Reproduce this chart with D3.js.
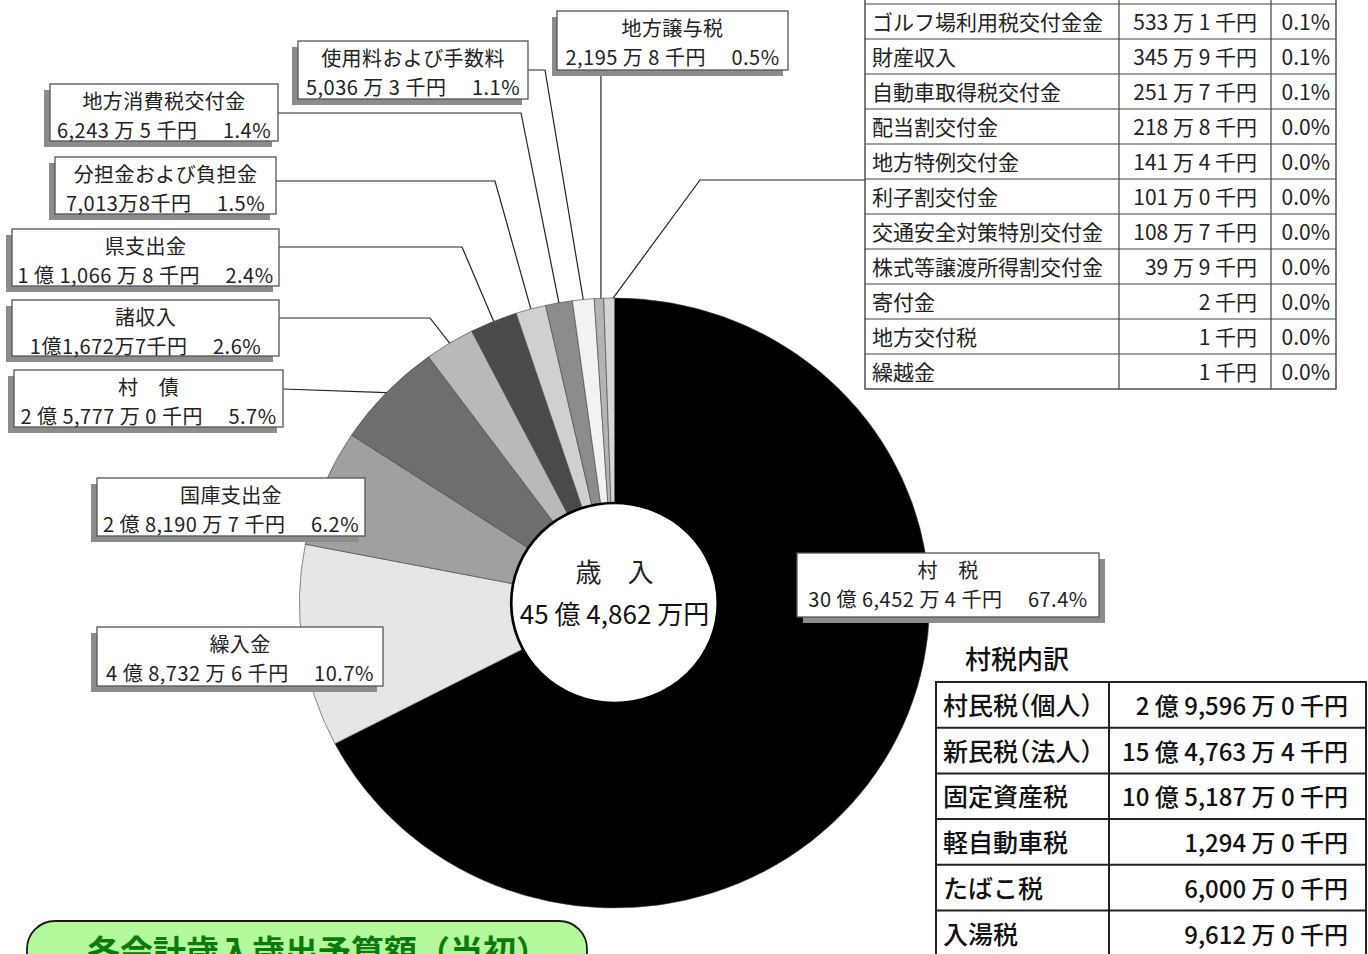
<!DOCTYPE html>
<html lang="ja">
<head>
<meta charset="utf-8">
<script src="https://cdn.jsdelivr.net/npm/d3@7"></script>
<style>
html, body { margin: 0; padding: 0; background: #fff; overflow: hidden; }
svg { display: block; font-family: "Noto Sans CJK JP", "Noto Sans", sans-serif; }
</style>
</head>
<body>
<svg id="chart" width="1368" height="954"></svg>
<script>
// 歳入の内訳（単位：千円）
const pieNames = ["村税", "繰入金", "国庫支出金", "村債", "諸収入", "県支出金",
    "分担金および負担金", "地方消費税交付金", "使用料および手数料", "地方譲与税"];
const pieValues = [3064524, 487326, 281907, 257770, 116727, 110668, 70138, 62435, 50363, 21958];

// その他（表に載っているもの）
const otherNames = ["環境性能割交付金", "ゴルフ場利用税交付金金", "財産収入", "自動車取得税交付金",
    "配当割交付金", "地方特例交付金", "利子割交付金", "交通安全対策特別交付金",
    "株式等譲渡所得割交付金", "寄付金", "地方交付税", "繰越金"];
const otherValues = [7395, 5331, 3459, 2517, 2188, 1414, 1010, 1087, 399, 2, 1, 1];

// 村税内訳
const taxNames = ["村民税（個人）", "新民税（法人）", "固定資産税", "軽自動車税", "たばこ税", "入湯税"];
const taxValues = [295960, 1547634, 1051870, 12940, 60000, 96120];

// labels printed without spaces in the source
const tightNames = ["分担金および負担金", "諸収入"];

const total = d3.sum(pieValues) + d3.sum(otherValues);
const pct = v => d3.format(".1f")(v / total * 100) + "%";

function yen(v, tight) {
    const oku = Math.floor(v / 100000), man = Math.floor((v % 100000) / 10), sen = v % 10;
    const s = tight ? "" : " ";
    let out = "";
    if (oku) out += oku + s + "億" + s;
    if (man || oku) out += d3.format(",")(man) + s + "万" + s;
    return out + sen + s + "千円";
}

const svg = d3.select("#chart");
svg.append("rect").attr("width", 1368).attr("height", 954).attr("fill", "#fff");

// ---- pie ----
const cx = 614.5, cy = 603, R = 305, r0 = 100, sx = 1.033;
const slices = pieNames.map((n, i) => ({name: n, value: pieValues[i]}));
slices.push({name: "その他", value: d3.sum(otherValues)});

const fills = d3.scaleOrdinal()
    .domain(slices.map(d => d.name))
    .range(["#000000", "#e6e6e6", "#a0a0a0", "#6e6e6e", "#b9b9b9", "#4a4a4a",
        "#d0d0d0", "#8c8c8c", "#f2f2f2", "#b4b4b4", "#d6d6d6"]);

const pie = d3.pie().sort(null).value(d => d.value);
const arcs = pie(slices);
const arc = d3.arc().innerRadius(r0).outerRadius(R);

const g = svg.append("g").attr("transform", `translate(${cx},${cy}) scale(${sx},1)`);
g.selectAll("path.slice")
    .data(arcs)
    .join("path")
    .attr("class", "slice")
    .attr("d", arc)
    .attr("fill", d => fills(d.data.name))
    .attr("stroke", "#444")
    .attr("stroke-width", 0.6);

g.append("circle").attr("r", r0).attr("fill", "#fff").attr("stroke", "#000").attr("stroke-width", 2.6);

svg.append("text").attr("x", cx).attr("y", 582).attr("text-anchor", "middle")
    .attr("font-size", 26).attr("fill", "#222").text("歳　入");
const tOku = Math.floor(total / 100000), tMan = Math.floor((total % 100000) / 10);
svg.append("text").attr("x", cx).attr("y", 624).attr("text-anchor", "middle")
    .attr("font-size", 26).attr("fill", "#111").text(tOku + " 億 " + d3.format(",")(tMan) + " 万円");

function anchor(name) {
    const a = arcs.find(d => d.data.name === name);
    const m = (a.startAngle + a.endAngle) / 2;
    return [cx + R * sx * Math.sin(m), cy - R * Math.cos(m)];
}

// ---- label boxes (layout only) ----
const boxes = {
    "地方譲与税":        {x: 557, y: 11, w: 231, h: 59, dx: -5, line: "down"},
    "使用料および手数料": {x: 298, y: 41, w: 230, h: 58, dx: -6, line: [70, 545]},
    "地方消費税交付金":   {x: 50, y: 84, w: 228, h: 57, dx: -6, line: [113, 521]},
    "分担金および負担金": {x: 55, y: 157, w: 221, h: 57, dx: -6, line: [181, 495]},
    "県支出金":          {x: 12, y: 229, w: 267, h: 57, dx: -6, line: [247, 462]},
    "諸収入":            {x: 12, y: 300, w: 267, h: 56, dx: -6, line: [318, 430]},
    "村債":              {x: 14, y: 370, w: 269, h: 57, dx: -6, line: [389, null]},
    "国庫支出金":        {x: 97, y: 478, w: 268, h: 58, dx: -6},
    "繰入金":            {x: 97, y: 627, w: 286, h: 59, dx: -6},
    "村税":              {x: 797, y: 553, w: 302, h: 64, dx: 6}
};

const lineG = svg.append("g").attr("fill", "none").attr("stroke", "#222").attr("stroke-width", 1.2);
const boxG = svg.append("g");

pieNames.forEach((name, i) => {
    const b = boxes[name];
    const [ax, ay] = anchor(name);
    if (b.line === "down") {
        lineG.append("path").attr("d", d3.line()([[ax + 2, b.y + b.h], [ax + 2, ay]]));
    } else if (b.line) {
        const pts = [[b.x + b.w, b.line[0]]];
        if (b.line[1]) pts.push([b.line[1], b.line[0]]);
        pts.push([ax, ay]);
        lineG.append("path").attr("d", d3.line()(pts));
    }
    boxG.append("rect").attr("x", b.x + b.dx).attr("y", b.y + 6).attr("width", b.w).attr("height", b.h)
        .attr("fill", "#8c8c8c");
    boxG.append("rect").attr("x", b.x).attr("y", b.y).attr("width", b.w).attr("height", b.h)
        .attr("fill", "#fff").attr("stroke", "#555").attr("stroke-width", 1.3);
    const title = name.length === 2 ? name[0] + "　" + name[1] : name;
    boxG.append("text").attr("x", b.x + b.w / 2).attr("y", b.y + 25).attr("text-anchor", "middle")
        .attr("font-size", 20).attr("letter-spacing", 0.4).attr("fill", "#222").text(title);
    boxG.append("text").attr("x", b.x + b.w / 2).attr("y", b.y + 53.5).attr("text-anchor", "middle")
        .attr("font-size", 20).attr("letter-spacing", 0.5).attr("fill", "#222").attr("xml:space", "preserve")
        .text(yen(pieValues[i], tightNames.includes(name)) + "\u2003 " + pct(pieValues[i]));
});

// ---- small-items table ----
const tX = [865, 1119, 1271, 1336], rowH = 35, rowTop0 = -31;
const [oax, oay] = anchor("その他");
lineG.append("path").attr("d", d3.line()([[oax + 4, oay], [700, 180], [tX[0], 180]]));

const tbl = svg.append("g").attr("font-size", 21).attr("fill", "#222");
tbl.append("rect").attr("x", tX[0]).attr("y", rowTop0).attr("width", tX[3] - tX[0])
    .attr("height", rowH * otherNames.length).attr("fill", "#fff").attr("stroke", "#444").attr("stroke-width", 1.4);
otherNames.forEach((n, i) => {
    const y = rowTop0 + i * rowH;
    if (i > 0) tbl.append("line").attr("x1", tX[0]).attr("x2", tX[3]).attr("y1", y).attr("y2", y)
        .attr("stroke", "#444").attr("stroke-width", 1.2);
    tbl.append("text").attr("x", tX[0] + 7).attr("y", y + 26).text(n);
    tbl.append("text").attr("x", tX[2] - 14).attr("y", y + 26).attr("text-anchor", "end").text(yen(otherValues[i]));
    tbl.append("text").attr("x", tX[3] - 6).attr("y", y + 26).attr("text-anchor", "end").text(pct(otherValues[i]));
});
[tX[1], tX[2]].forEach(x => tbl.append("line").attr("x1", x).attr("x2", x)
    .attr("y1", rowTop0).attr("y2", rowTop0 + rowH * otherNames.length).attr("stroke", "#444").attr("stroke-width", 1.2));

// ---- 村税内訳 table ----
svg.append("text").attr("x", 965).attr("y", 669).attr("font-size", 26).attr("font-weight", 500)
    .attr("fill", "#111").text("村税内訳");
const kX = [936, 1109, 1366], kTop = 682, kH = 45.7;
const k = svg.append("g").attr("font-weight", 500).attr("fill", "#111")
    .style("font-feature-settings", '"halt"');
k.append("rect").attr("x", kX[0]).attr("y", kTop).attr("width", kX[2] - kX[0]).attr("height", kH * taxNames.length)
    .attr("fill", "#fff").attr("stroke", "#222").attr("stroke-width", 2);
taxNames.forEach((n, i) => {
    const y = kTop + i * kH;
    if (i > 0) k.append("line").attr("x1", kX[0]).attr("x2", kX[2]).attr("y1", y).attr("y2", y)
        .attr("stroke", "#222").attr("stroke-width", 2);
    k.append("text").attr("x", kX[0] + 7).attr("y", y + 33).attr("font-size", 25).text(n);
    k.append("text").attr("x", kX[2] - 18).attr("y", y + 33).attr("font-size", 24)
        .attr("text-anchor", "end").text(yen(taxValues[i]));
});
k.append("line").attr("x1", kX[1]).attr("x2", kX[1]).attr("y1", kTop).attr("y2", kTop + kH * taxNames.length)
    .attr("stroke", "#222").attr("stroke-width", 2);

// ---- green heading (cut off at the bottom) ----
svg.append("rect").attr("x", 27).attr("y", 921).attr("width", 560).attr("height", 90).attr("rx", 28)
    .attr("fill", "#b3f89a").attr("stroke", "#1a1a1a").attr("stroke-width", 1.8);
svg.append("text").attr("x", 318).attr("y", 964).attr("text-anchor", "middle").attr("font-size", 33)
    .attr("font-weight", 700).attr("fill", "#0b7a0b").text("各会計歳入歳出予算額（当初）");
</script>
</body>
</html>
